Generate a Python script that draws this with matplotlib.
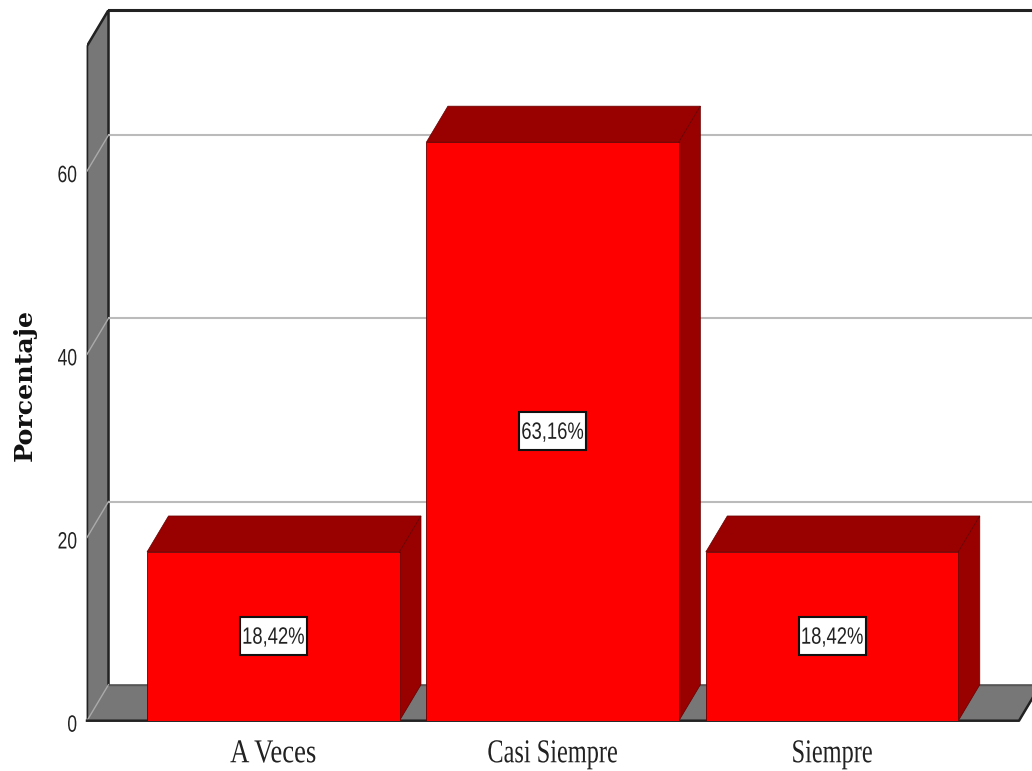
import matplotlib
matplotlib.use("Agg")
import matplotlib.pyplot as plt
from matplotlib.patches import Rectangle
from matplotlib.patheffects import AbstractPathEffect
from matplotlib.transforms import Affine2D, ScaledTranslation

categories = ["A Veces", "Casi Siempre", "Siempre"]
percent = [18.42, 63.16, 18.42]
percent_labels = ["18,42%", "63,16%", "18,42%"]
y_ticks = [0, 20, 40, 60]


# no condensed fonts installed, so squeeze the glyphs sideways when drawing
class Squeeze(AbstractPathEffect):
    def __init__(self, sx, anchor=0.5):
        super().__init__()
        self.sx = sx
        self.anchor = anchor

    def draw_path(self, renderer, gc, tpath, affine, rgbFace=None):
        x1, _, x2, _ = tpath.get_extents().extents
        c = x1 + (x2 - x1) * self.anchor
        t = Affine2D().translate(-c, 0).scale(self.sx, 1).translate(c, 0) + affine
        renderer.draw_path(gc, tpath, t, rgbFace)


W, H = 1032, 771
fig = plt.figure(figsize=(W / 100, H / 100), dpi=100)

# plot box in pixels, front left corner of the floor is (87, 720.7)
left, right, top, bottom = 87, 1032, 10, 720.7
ax = fig.add_axes([left / W, 1 - bottom / H, (right - left) / W, (bottom - top) / H])

step = 279.4
px_y = 9.16
ax.set_xlim((left - 273.25) / step, (right - 273.25) / step)
ax.set_ylim(0, (bottom - top) / px_y)

# depth of the fake 3D, as data units
dx = 21.5 / step
dy = 36 / px_y
width = 252.5 / step
x0 = ax.get_xlim()[0]
ymax = ax.get_ylim()[1]
wall = "#777777"
dark = "#990000"
line = "#222222"

# left wall and floor
ax.fill([x0, x0 + dx, x0 + dx, x0], [0, dy, ymax, ymax - dy], color=wall, zorder=1, clip_on=False)
floor_end = x0 + 932 / step
ax.fill([x0, x0 + dx, floor_end + dx, floor_end], [0, dy, dy, 0], color=wall, zorder=1, clip_on=False)

# outline of the box
ax.plot([x0, x0, x0 + dx, x0 + dx], [0, ymax - dy, ymax, dy], color=line, lw=1.8, zorder=2)
ax.plot([x0, x0 + dx], [0, dy], color="#aaaaaa", lw=1, zorder=2)
ax.plot([x0 + dx, floor_end + dx], [dy, dy], color="#555555", lw=1, zorder=2)
ax.plot([x0 + dx, ax.get_xlim()[1]], [ymax, ymax], color=line, lw=2.2, zorder=2, clip_on=False)
ax.plot([x0, floor_end, floor_end + dx], [0, 0, dy], color=line, lw=1.8, zorder=2, clip_on=False)

# gridlines on back wall and their bit on the side wall
for t in y_ticks[1:]:
    ax.plot([x0 + dx, ax.get_xlim()[1]], [t + dy, t + dy], color="#bbbbbb", lw=1.5, zorder=2)
    ax.plot([x0, x0 + dx], [t, t + dy], color="#aaaaaa", lw=1, zorder=2)

xpos = range(len(categories))
ax.bar(xpos, percent, width=width, color="#ff0000", edgecolor="#660000", lw=0.6, zorder=5)

for i, v in zip(xpos, percent):
    r = i + width / 2
    l = i - width / 2
    ax.fill([l, l + dx, r + dx, r], [v, v + dy, v + dy, v], facecolor=dark, edgecolor="#660000", lw=0.5, zorder=4)
    ax.fill([r, r + dx, r + dx, r], [0, dy, v + dy, v], facecolor=dark, edgecolor="#660000", lw=0.5, zorder=4)

# value labels in white boxes
box_w = 67 / step
box_h = 38 / px_y
for i, v, s in zip(xpos, percent, percent_labels):
    ax.add_patch(Rectangle((i - box_w / 2, v / 2 - box_h / 2), box_w, box_h, facecolor="white",
                           edgecolor="#111111", lw=1.5, zorder=6))
    ax.text(i, v / 2 - 0.15, s, ha="center", va="center", fontsize=17, family="Liberation Sans",
            color="#222222", zorder=7, path_effects=[Squeeze(0.78)])

for s in ax.spines.values():
    s.set_visible(False)
ax.patch.set_alpha(0)

ax.set_xticks(list(xpos))
ax.set_xticklabels(categories, fontsize=24, family="Liberation Serif", color="#222222")
ax.set_yticks(y_ticks)
ax.set_yticklabels([str(t) for t in y_ticks], fontsize=17, family="Liberation Sans", color="#222222")
ax.tick_params(axis="x", length=0, pad=13)
ax.tick_params(axis="y", length=0, pad=7)
x_squeeze = [0.8, 0.73, 0.73]
for lab, sx in zip(ax.get_xticklabels(), x_squeeze):
    lab.set_path_effects([Squeeze(sx)])
# y labels sit a little under their tick position in the original
shift = ScaledTranslation(0, -2.5 / 100, fig.dpi_scale_trans)
for lab in ax.get_yticklabels():
    lab.set_path_effects([Squeeze(0.74, anchor=1)])
    lab.set_transform(lab.get_transform() + shift)

ax.set_ylabel("Porcentaje", fontsize=18.3, fontweight="bold", family="DejaVu Serif", color="#111111")
ax.yaxis.set_label_coords((37 - left) / (right - left), (bottom - 384.5) / (bottom - top))

fig.savefig("out.png", dpi=100)
